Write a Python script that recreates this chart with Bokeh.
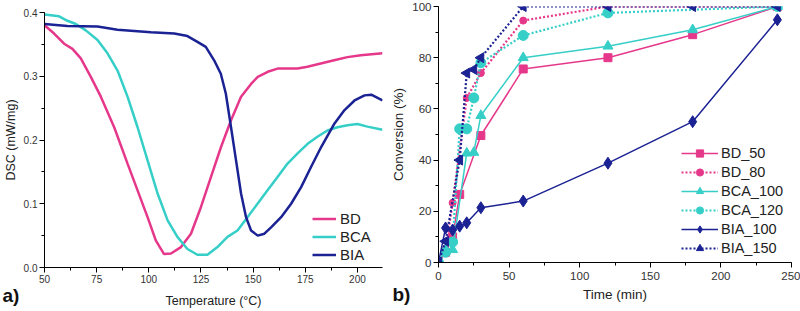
import numpy as np
from bokeh.plotting import figure
from bokeh.layouts import row, column
from bokeh.models import Range1d, Legend, LegendItem, Title, FixedTicker, NumeralTickFormatter
from bokeh.embed import file_html
from bokeh.resources import INLINE

# ---------------- Panel a: DSC data ----------------
bd_T = [50, 54.6, 59.4, 63.4, 67.4, 72.2, 77, 83.4, 89.8, 94.6, 99.4, 103.4, 107.3, 110.6, 115.4,
        120.2, 125, 129.8, 134.6, 139.4, 144.2, 149, 152.2, 157, 161.7, 166.5, 171.3, 176, 182.4,
        188.8, 195.2, 201.6, 212]
bd_dsc = [0.380, 0.367, 0.351, 0.343, 0.328, 0.299, 0.268, 0.220, 0.163, 0.121, 0.079, 0.042, 0.021,
          0.022, 0.032, 0.053, 0.095, 0.142, 0.189, 0.231, 0.268, 0.288, 0.299, 0.307, 0.312, 0.312,
          0.312, 0.315, 0.320, 0.325, 0.330, 0.333, 0.336]

bca_T = [50, 57, 61, 65, 69.8, 75.4, 80.2, 85, 89.8, 94.6, 99.4, 104.2, 109, 113.7, 118.5, 123.3,
         128.1, 132.9, 137.7, 142.5, 147.3, 152.1, 156.9, 161.7, 166.5, 171.3, 176.1, 180.8, 185.6,
         190.4, 195.2, 200, 204.8, 212]
bca_dsc = [0.397, 0.394, 0.387, 0.382, 0.372, 0.357, 0.336, 0.309, 0.268, 0.220, 0.168, 0.116, 0.074,
           0.048, 0.029, 0.020, 0.020, 0.032, 0.048, 0.058, 0.079, 0.100, 0.121, 0.142, 0.163, 0.179,
           0.194, 0.205, 0.215, 0.220, 0.223, 0.225, 0.221, 0.216]

bia_T = [50, 61, 75.4, 85, 93, 101, 112.2, 118.5, 123.3, 127.3, 131.3, 134.5, 136.9, 139.4, 141.8,
         144.2, 146.6, 149, 152.2, 155.4, 158.6, 163.4, 168.2, 173, 177.8, 182.6, 189, 193.8, 198.6,
         203.4, 206.6, 212]
bia_dsc = [0.382, 0.379, 0.378, 0.373, 0.371, 0.369, 0.367, 0.363, 0.354, 0.346, 0.325, 0.304, 0.273,
           0.220, 0.168, 0.116, 0.079, 0.058, 0.050, 0.053, 0.063, 0.079, 0.100, 0.126, 0.158, 0.189,
           0.226, 0.247, 0.262, 0.270, 0.271, 0.262]

# ---------------- Panel b: conversion data ----------------
bd50_t = [0, 5, 10, 15, 30, 60, 120, 180, 240]
bd50_c = [0, 4, 10, 26.6, 49.6, 75.6, 80, 89, 100]

bd80_t = [0, 5, 10, 20, 30, 60, 120, 240]
bd80_c = [0, 5, 23.3, 64.3, 74, 94.5, 100, 100]

bca100_t = [0, 5, 10, 20, 25, 30, 60, 120, 180, 240]
bca100_c = [0, 5, 5, 42.7, 43, 57.4, 80, 84.5, 90.9, 100]

bca120_t = [0, 5, 10, 15, 20, 25, 30, 60, 120, 240]
bca120_c = [0, 4, 8, 52.2, 52.2, 64.3, 78, 88.7, 97.5, 100]

bia100_t = [0, 5, 10, 15, 20, 30, 60, 120, 180, 240]
bia100_c = [0, 13.5, 12.7, 14.2, 15.5, 21.4, 24, 38.8, 55, 94.8]

bia150_t = [0, 5, 15, 20, 25, 30, 60, 120, 180, 240]
bia150_c = [0, 8.3, 40, 74, 75.4, 80, 100, 100, 100, 100]

PINK = "#E6388B"
CYAN = "#35CFC8"
NAVY = "#1B2293"
FONT = "Liberation Sans"
TICKC = "#333333"


def style_axes(p, tick_size, label_size, xlab_standoff, xtick_standoff):
    p.outline_line_color = None
    p.grid.grid_line_color = None
    for ax in (p.xaxis[0], p.yaxis[0]):
        ax.axis_line_color = "black"
        ax.axis_line_width = 1
        ax.major_tick_line_color = "black"
        ax.minor_tick_line_color = "black"
        ax.major_tick_out = 5
        ax.major_tick_in = 0
        ax.minor_tick_out = 3
        ax.minor_tick_in = 0
        ax.major_label_text_font = FONT
        ax.major_label_text_font_size = tick_size
        ax.major_label_text_color = TICKC
        ax.axis_label_text_font = FONT
        ax.axis_label_text_font_size = label_size
        ax.axis_label_text_font_style = "normal"
        ax.axis_label_text_color = "#222222"
        ax.major_label_standoff = 2
        ax.axis_label_standoff = 3
    p.xaxis[0].axis_label_standoff = xlab_standoff
    p.xaxis[0].major_label_standoff = xtick_standoff


def panel_tag(text, offset, standoff):
    return Title(text=text, align="left", vertical_align="top", offset=offset, standoff=standoff,
                 text_font=FONT, text_font_size="19px", text_font_style="bold",
                 text_color="#111111")


# ---------- figure a ----------
pa = figure(width=388, height=311, output_backend="svg", toolbar_location=None,
            x_range=Range1d(50, 212), y_range=Range1d(0, 0.4),
            min_border_left=44, min_border_right=6, min_border_top=12, min_border_bottom=44,
            x_axis_label="Temperature (°C)", y_axis_label="DSC (mW/mg)")
pa.xaxis[0].ticker = FixedTicker(ticks=[50, 75, 100, 125, 150, 175, 200],
                                 minor_ticks=list(np.arange(50, 212.5, 12.5)))
pa.yaxis[0].ticker = FixedTicker(ticks=[0.0, 0.1, 0.2, 0.3, 0.4],
                                 minor_ticks=[0.0, 0.05, 0.1, 0.15, 0.2, 0.25, 0.3, 0.35, 0.4])
pa.yaxis[0].formatter = NumeralTickFormatter(format="0.0")
style_axes(pa, "10px", "12.5px", 8, 2)

ra1 = pa.line(bd_T, bd_dsc, line_color=PINK, line_width=2.5)
ra2 = pa.line(bca_T, bca_dsc, line_color=CYAN, line_width=2.5)
ra3 = pa.line(bia_T, bia_dsc, line_color=NAVY, line_width=2.5)

leg_a = Legend(items=[LegendItem(label="BD", renderers=[ra1]),
                      LegendItem(label="BCA", renderers=[ra2]),
                      LegendItem(label="BIA", renderers=[ra3])],
               location=(268, 4), border_line_color=None, background_fill_alpha=0,
               padding=0, margin=0, spacing=1, glyph_width=24, glyph_height=17,
               label_height=17, label_standoff=4,
               label_text_font=FONT, label_text_font_size="15px", label_text_color="#222222")
pa.add_layout(leg_a)
pa.add_layout(panel_tag("a)", -42, -51), "below")

# ---------- figure b ----------
pb = figure(width=412, height=311, output_backend="svg", toolbar_location=None,
            x_range=Range1d(0, 250), y_range=Range1d(0, 100),
            min_border_left=49, min_border_right=9, min_border_top=6, min_border_bottom=49,
            x_axis_label="Time (min)", y_axis_label="Conversion (%)")
pb.xaxis[0].ticker = FixedTicker(ticks=[0, 50, 100, 150, 200, 250],
                                 minor_ticks=list(range(0, 251, 25)))
pb.yaxis[0].ticker = FixedTicker(ticks=[0, 20, 40, 60, 80, 100],
                                 minor_ticks=list(range(0, 101, 10)))
style_axes(pb, "11.5px", "13.5px", 4, 4)

DOT = "2 2"
items = []
l = pb.line(bd50_t, bd50_c, line_color=PINK, line_width=1.5)
m = pb.scatter(bd50_t, bd50_c, marker="square", size=8, color=PINK)
items.append(LegendItem(label="BD_50", renderers=[l, m]))
l = pb.line(bd80_t, bd80_c, line_color=PINK, line_width=2.2, line_dash=DOT)
m = pb.scatter(bd80_t, bd80_c, marker="circle", size=7, color=PINK)
items.append(LegendItem(label="BD_80", renderers=[l, m]))
l = pb.line(bca100_t, bca100_c, line_color=CYAN, line_width=1.5)
m = pb.scatter(bca100_t, bca100_c, marker="triangle", size=10, color=CYAN)
items.append(LegendItem(label="BCA_100", renderers=[l, m]))
l = pb.line(bca120_t, bca120_c, line_color=CYAN, line_width=2.2, line_dash=DOT)
m = pb.scatter(bca120_t, bca120_c, marker="circle", size=10, color=CYAN)
items.append(LegendItem(label="BCA_120", renderers=[l, m]))
l = pb.line(bia100_t, bia100_c, line_color=NAVY, line_width=1.5)
m = pb.scatter(bia100_t, bia100_c, marker="diamond", size=12, color=NAVY)
items.append(LegendItem(label="BIA_100", renderers=[l, m]))
l = pb.line(bia150_t, bia150_c, line_color=NAVY, line_width=2.2, line_dash=DOT)
m = pb.scatter(bia150_t, bia150_c, marker="triangle", angle=np.pi / 2, size=10, color=NAVY)
items.append(LegendItem(label="BIA_150", renderers=[l, m]))

leg_b = Legend(items=items, location=(243, 5), border_line_color=None, background_fill_alpha=0,
               padding=0, margin=0, spacing=1, glyph_width=37, glyph_height=18,
               label_height=18, label_standoff=3,
               label_text_font=FONT, label_text_font_size="14.5px", label_text_color="#222222")
pb.add_layout(leg_b)
pb.add_layout(panel_tag("b)", -46, -41), "below")

layout = row(column(pa), column(pb), spacing=0)
open("out.html", "w").write(file_html(layout, INLINE))
